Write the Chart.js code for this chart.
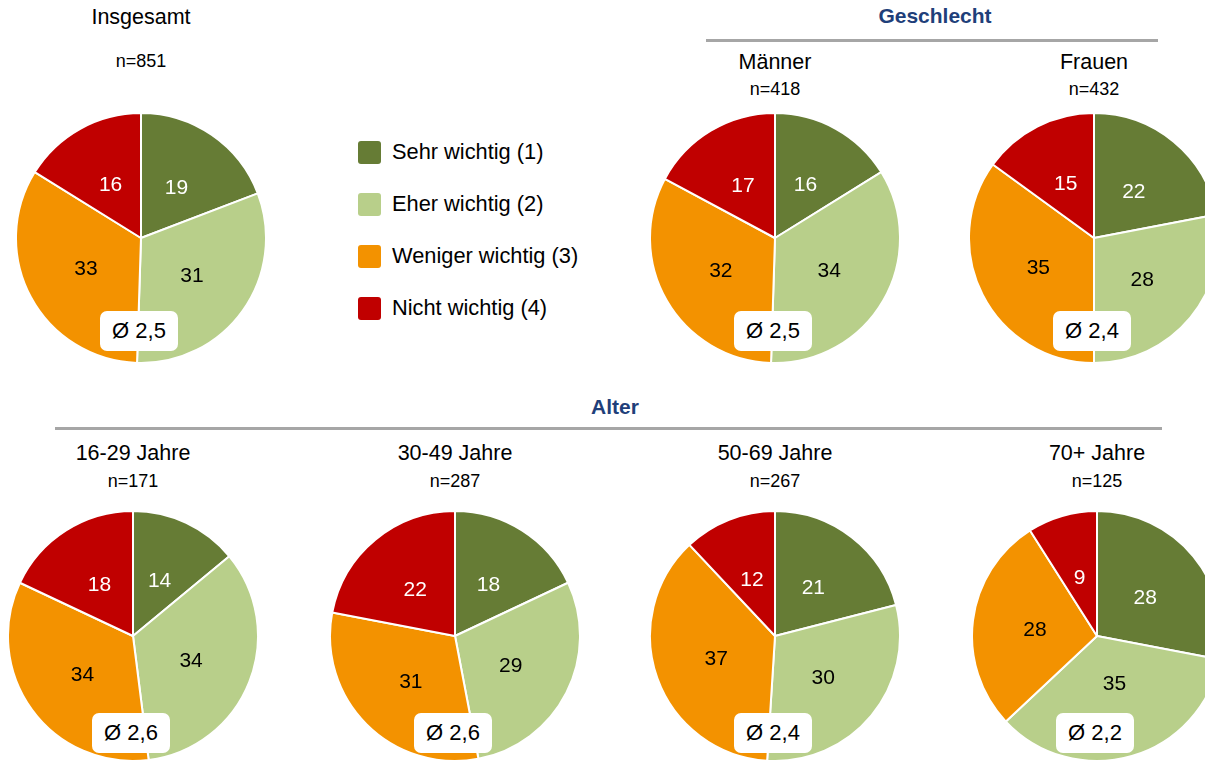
<!DOCTYPE html>
<html><head><meta charset="utf-8">
<script src="https://cdn.jsdelivr.net/npm/chart.js@4.4.1/dist/chart.umd.min.js"></script>
<style>
html,body{margin:0;padding:0;background:#fff;}
body{width:1205px;height:760px;overflow:hidden;position:relative;font-family:"Liberation Sans",Arial,sans-serif;color:#000;}
.title{position:absolute;font-size:21.5px;transform:translate(-50%,-50%);white-space:nowrap;}
.n{position:absolute;font-size:18px;transform:translate(-50%,-50%);white-space:nowrap;}
.sec{position:absolute;font-size:21px;font-weight:bold;color:#1f3f7a;transform:translate(-50%,-50%);white-space:nowrap;}
.rule{position:absolute;height:3px;background:#a6a6a6;}
.avg{position:absolute;background:#fff;border-radius:7px;font-size:22px;width:78px;height:40px;line-height:40px;text-align:center;transform:translate(-50%,-50%);}
.leg{position:absolute;font-size:21.8px;white-space:nowrap;}
.sw{position:absolute;width:23px;height:23px;border-radius:3px;}
canvas{position:absolute;}
</style></head>
<body>
<script>
// ---- data ----
const groups = ["Insgesamt", "Männer", "Frauen", "16-29 Jahre", "30-49 Jahre", "50-69 Jahre", "70+ Jahre"];
const nCounts = ["n=851", "n=418", "n=432", "n=171", "n=287", "n=267", "n=125"];
const categories = ["Sehr wichtig (1)", "Eher wichtig (2)", "Weniger wichtig (3)", "Nicht wichtig (4)"];
const sehrWichtig    = [19, 16, 22, 14, 18, 21, 28];
const eherWichtig    = [31, 34, 28, 34, 29, 30, 35];
const wenigerWichtig = [33, 32, 35, 34, 31, 37, 28];
const nichtWichtig   = [16, 17, 15, 18, 22, 12, 9];
const averages = ["Ø 2,5", "Ø 2,5", "Ø 2,4", "Ø 2,6", "Ø 2,6", "Ø 2,4", "Ø 2,2"];
const sections = ["Geschlecht", "Alter"];

// ---- styling / layout ----
const colors = ["#667c35", "#b8cf8a", "#f39200", "#c00000"];
const labelColors = ["#ffffff", "#000000", "#000000", "#ffffff"];
const centers = [[141,238],[775,238],[1094,238],[133,636],[455,636],[775,636],[1097,636]];
const titleY = [[17,61],[62,89],[62,89],[453,481],[453,481],[453,481],[453,481]];
const avgOffsetY = [93, 93, 93, 97, 97, 97, 97];
const labelNudgeY = {"6-1": -14};
const R = 125, BW = 2;

function el(cls, text, x, y){
  const d = document.createElement('div'); d.className = cls;
  if (text !== null) d.textContent = text;
  d.style.left = x + 'px'; d.style.top = y + 'px';
  document.body.appendChild(d); return d;
}

// section headers and rules
el('sec', sections[0], 935, 16);
const r1 = el('rule', null, 706, 39); r1.style.width = (1158-706) + 'px';
el('sec', sections[1], 615, 407);
const r2 = el('rule', null, 55, 427); r2.style.width = (1162-55) + 'px';

// legend
const legY = [152, 204, 256, 308];
categories.forEach((c, i) => {
  const s = el('sw', null, 358, legY[i] - 11); s.style.background = colors[i];
  const t = el('leg', c, 392, legY[i]); t.style.transform = 'translateY(-50%)';
});

function makeLabelPlugin(k) {
  return {
    id: 'valueLabels' + k,
    afterDatasetsDraw(chart) {
      const ctx = chart.ctx;
      const meta = chart.getDatasetMeta(0);
      ctx.save();
      ctx.font = '21px "Liberation Sans", Arial, sans-serif';
      ctx.textAlign = 'center'; ctx.textBaseline = 'middle';
      meta.data.forEach((arc, i) => {
        const p = arc.tooltipPosition();
        const dy = labelNudgeY[k + '-' + i] || 0;
        ctx.fillStyle = labelColors[i];
        ctx.fillText(String(chart.data.datasets[0].data[i]), p.x, p.y + 2 + dy);
      });
      ctx.restore();
    }
  };
}

groups.forEach((g, k) => {
  const [cx, cy] = centers[k];
  const size = 2*R + BW;
  const cv = document.createElement('canvas');
  cv.width = size; cv.height = size;
  cv.style.left = (cx - size/2) + 'px'; cv.style.top = (cy - size/2) + 'px';
  document.body.appendChild(cv);
  new Chart(cv, {
    type: 'pie',
    data: {
      labels: categories,
      datasets: [{
        data: [sehrWichtig[k], eherWichtig[k], wenigerWichtig[k], nichtWichtig[k]],
        backgroundColor: colors,
        borderColor: '#ffffff',
        borderWidth: BW
      }]
    },
    options: {
      responsive: false, animation: false,
      layout: { padding: 0 },
      plugins: { legend: { display: false }, tooltip: { enabled: false } }
    },
    plugins: [makeLabelPlugin(k)]
  });
  el('title', g, cx, titleY[k][0]);
  el('n', nCounts[k], cx, titleY[k][1]);
  el('avg', averages[k], cx - 2, cy + avgOffsetY[k]);
});
</script>
</body></html>
